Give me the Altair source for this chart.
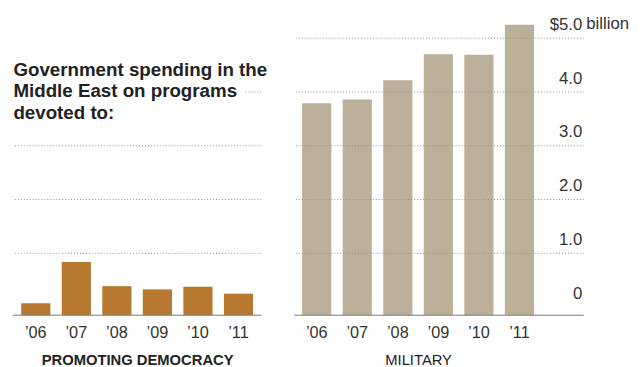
import altair as alt
import pandas as pd

# ---- data ----
years = ["’06", "’07", "’08", "’09", "’10", "’11"]
democracy = [0.07, 0.84, 0.39, 0.33, 0.38, 0.25]
military = [3.79, 3.86, 4.22, 4.70, 4.69, 5.25]
left_grid = [1, 2, 3]
left_grid_short = [4]
right_grid = [1, 2, 3, 4, 5]
right_ticks = [0, 1, 2, 3, 4, 5]
title_lines = "Government spending in the\nMiddle East on programs\ndevoted to:"
left_label = "PROMOTING DEMOCRACY"
right_label = "MILITARY"
unit_label = "billion"

# ---- layout / style constants ----
BASE = -0.15
YMAX = 5.44
H = 305
WL = 252
WR = 294
FONT = "Liberation Sans"
GRID_COLOR = "#8f8f8f"
BASE_COLOR = "#7a7a7a"
DEM_COLOR = "#b7792f"
MIL_COLOR = "#bdb09a"

yscale = alt.Scale(domain=[BASE, YMAX], nice=False, zero=False)

dem_df = pd.DataFrame({"year": years, "value": democracy})
mil_df = pd.DataFrame({"year": years, "value": military})


def x_axis(title, bold):
    return alt.Axis(
        title=title, labelAngle=0, ticks=False, domain=False, grid=False,
        labelFontSize=16.5, labelColor="#333333", labelPadding=10, labelFont=FONT,
        titleFont=FONT, titleFontSize=15, titleFontWeight="bold" if bold else "normal",
        titleColor="#222222", titlePadding=12,
    )


# ---------------- left panel ----------------
lgrid = alt.Chart(pd.DataFrame({"value": left_grid})).mark_rule(
    color=GRID_COLOR, strokeDash=[1, 2], strokeWidth=1
).encode(y=alt.Y("value:Q", scale=yscale, axis=None))

lgrid_short = alt.Chart(pd.DataFrame({"value": left_grid_short})).mark_rule(
    color=GRID_COLOR, strokeDash=[1, 2], strokeWidth=1
).encode(
    y=alt.Y("value:Q", scale=yscale, axis=None),
    x=alt.value(236), x2=alt.value(WL + 2),
)

lbars = alt.Chart(dem_df).mark_bar(color=DEM_COLOR).encode(
    x=alt.X("year:N", sort=years,
            scale=alt.Scale(paddingInner=0.28, paddingOuter=0.204),
            axis=x_axis(left_label, True)),
    y=alt.Y("value:Q", scale=yscale, axis=None),
    y2=alt.datum(BASE),
)

lbase = alt.Chart(pd.DataFrame({"value": [BASE]})).mark_rule(
    color=BASE_COLOR, strokeWidth=1
).encode(y=alt.Y("value:Q", scale=yscale, axis=None))

ltitle = alt.Chart(pd.DataFrame({"t": [title_lines]})).mark_text(
    align="left", baseline="alphabetic", font=FONT, fontSize=19,
    fontWeight="bold", color="#222222", lineBreak="\n", lineHeight=22,
).encode(text="t:N", x=alt.value(0.5), y=alt.value(62))

left = alt.layer(lgrid, lgrid_short, lbars, lbase, ltitle).properties(width=WL, height=H)

# ---------------- right panel ----------------
right_axis = alt.Axis(
    orient="right", values=right_ticks, title=None, domain=False, ticks=False,
    grid=False, labelAlign="right", labelBaseline="middle", labelPadding=-2,
    labelOffset=-14, labelFontSize=17, labelColor="#333333", labelFont=FONT,
    labelExpr="datum.value == 0 ? '0' : (datum.value == 5 ? '$5.0' : format(datum.value, '.1f'))",
)

rbars = alt.Chart(mil_df).mark_bar(color=MIL_COLOR).encode(
    x=alt.X("year:N", sort=years,
            scale=alt.Scale(paddingInner=0.28, paddingOuter=0.204, range=[0, 252]),
            axis=x_axis(right_label, False)),
    y=alt.Y("value:Q", scale=yscale, axis=right_axis),
    y2=alt.datum(BASE),
)

rgrid = alt.Chart(pd.DataFrame({"value": right_grid})).mark_rule(
    color=GRID_COLOR, strokeDash=[1, 2], strokeWidth=1
).encode(y=alt.Y("value:Q", scale=yscale, axis=right_axis))

rbase = alt.Chart(pd.DataFrame({"value": [BASE]})).mark_rule(
    color=BASE_COLOR, strokeWidth=1
).encode(y=alt.Y("value:Q", scale=yscale, axis=right_axis))

runit = alt.Chart(pd.DataFrame({"value": [5], "t": [unit_label]})).mark_text(
    align="left", baseline="middle", font=FONT, fontSize=17, color="#333333", dy=-14,
).encode(
    y=alt.Y("value:Q", scale=yscale, axis=right_axis),
    x=alt.value(WR + 2.5), text="t:N",
)

right = alt.layer(rbars, rgrid, rbase, runit).properties(width=WR, height=H)

chart = alt.hconcat(left, right, spacing=25).properties(
    padding={"left": 4, "top": 4, "right": 5, "bottom": 0},
    background="white",
).configure_view(stroke=None)

chart.save("out.html", embed_options={"renderer": "svg", "actions": False})
